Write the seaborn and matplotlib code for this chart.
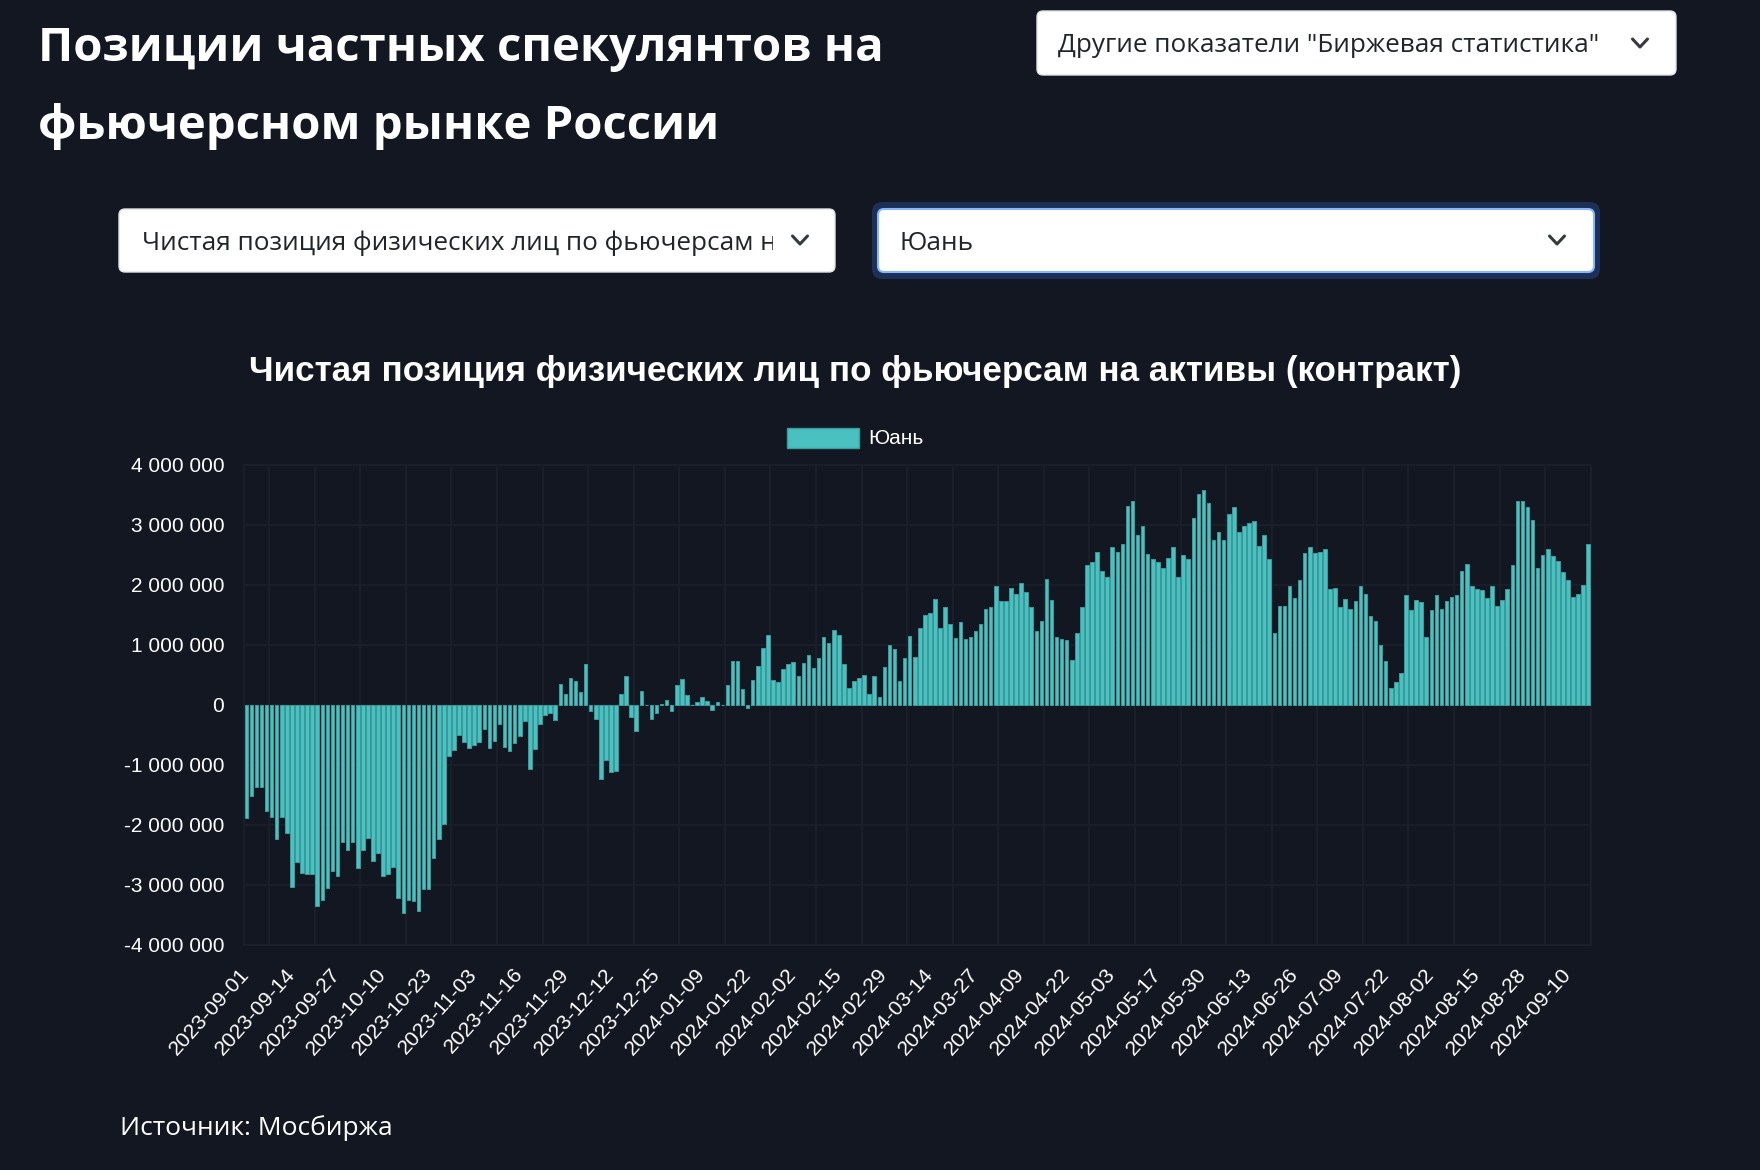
import matplotlib
matplotlib.use("Agg")
import matplotlib.pyplot as plt
import seaborn as sns
import pandas as pd
import numpy as np
from matplotlib.patches import FancyBboxPatch, Rectangle
from matplotlib.lines import Line2D

# ---------------- data ----------------
series_name = "Юань"
chart_title = "Чистая позиция физических лиц по фьючерсам на активы (контракт)"
indicator_text = "Чистая позиция физических лиц по фьючерсам на"

# net position, millions of contracts, one value per trading day (2023-09-01 .. 2024-09-16)
values_mln = [
    -1.89, -1.52, -1.37, -1.37, -1.78, -1.87, -2.24, -1.88, -2.14, -3.04,
    -2.62, -2.81, -2.83, -2.82, -3.36, -3.26, -3.06, -2.78, -2.85, -2.29,
    -2.43, -2.29, -2.72, -2.42, -2.23, -2.60, -2.48, -2.86, -2.82, -2.71,
    -3.23, -3.48, -3.25, -3.28, -3.44, -3.08, -3.07,
    -2.56, -2.24, -1.99, -0.85, -0.76, -0.51, -0.62, -0.73, -0.68, -0.62,
    -0.40, -0.73, -0.61, -0.32, -0.71, -0.78, -0.64, -0.53, -0.28, -1.07,
    -0.74, -0.32, -0.17, -0.14, -0.26, 0.35, 0.18, 0.44, 0.39, 0.21,
    0.67, -0.10, -0.24, -1.24, -0.92, -1.12, -1.11,
    0.17, 0.47, -0.21, -0.44, 0.22, 0.0, -0.24, -0.14, 0.01, 0.07,
    -0.11, 0.32, 0.42, 0.16, 0.0, 0.04, 0.13, 0.06, -0.09, 0.04,
    0.0, 0.32, 0.73, 0.72, 0.26, -0.06, 0.41, 0.65, 0.94, 1.16,
    0.41, 0.37, 0.59, 0.68, 0.71, 0.47, 0.69, 0.83,
    0.61, 0.78, 1.12, 1.02, 1.25, 1.16, 0.67, 0.28, 0.39, 0.44,
    0.50, 0.17, 0.47, 0.13, 0.62, 1.00, 0.92, 0.39, 0.77, 1.14,
    0.80, 1.27, 1.49, 1.53, 1.76, 1.28, 1.63, 1.34, 1.11, 1.37,
    1.09, 1.13, 1.23, 1.35, 1.60, 1.62, 1.98, 1.72,
    1.73, 1.94, 1.85, 2.03, 1.87, 1.62, 1.23, 1.39, 2.09, 1.74,
    1.12, 1.09, 1.08, 0.74, 1.20, 1.62, 2.33, 2.38, 2.54, 2.22,
    2.12, 2.63, 2.54, 2.68, 3.31, 3.40, 2.83, 2.97, 2.51, 2.42,
    2.38, 2.28, 2.45, 2.62, 2.12, 2.49, 2.42,
    3.11, 3.51, 3.57, 3.36, 2.75, 2.87, 2.74, 3.18, 3.30, 2.87,
    2.98, 3.02, 3.06, 2.65, 2.83, 2.43, 1.20, 1.64, 1.64, 1.98,
    1.77, 2.07, 2.53, 2.63, 2.53, 2.54, 2.59, 1.93, 1.95, 1.63,
    1.76, 1.59, 1.72, 1.98, 1.85, 1.48, 1.39,
    1.00, 0.73, 0.27, 0.38, 0.53, 1.83, 1.58, 1.74, 1.71, 1.12,
    1.57, 1.82, 1.59, 1.73, 1.80, 1.82, 2.23, 2.34, 1.97, 1.93,
    1.91, 1.77, 1.98, 1.65, 1.74, 1.92, 2.33, 3.40, 3.40, 3.29,
    3.08, 2.28, 2.49, 2.60, 2.47, 2.39, 2.21, 2.07, 1.79, 1.85,
    1.99, 2.67,
]

tick_labels = [
    "2023-09-01", "2023-09-14", "2023-09-27", "2023-10-10", "2023-10-23",
    "2023-11-03", "2023-11-16", "2023-11-29", "2023-12-12", "2023-12-25",
    "2024-01-09", "2024-01-22", "2024-02-02", "2024-02-15", "2024-02-29",
    "2024-03-14", "2024-03-27", "2024-04-09", "2024-04-22", "2024-05-03",
    "2024-05-17", "2024-05-30", "2024-06-13", "2024-06-26", "2024-07-09",
    "2024-07-22", "2024-08-02", "2024-08-15", "2024-08-28", "2024-09-10",
]
tick_step = 9  # one label every 9 trading days
y_ticks = [-4e6, -3e6, -2e6, -1e6, 0, 1e6, 2e6, 3e6, 4e6]

# ---------------- style ----------------
W, H = 1760, 1170
BG = "#131722"
TEAL = "#4bc0c0"
EDGE = "#3b9c9c"
GRID = "#1b202b"

sns.set_theme(style="dark")
plt.rcParams['font.family'] = ['Liberation Sans', 'DejaVu Sans']
UI_FONT = ['Open Sans', 'Noto Sans', 'DejaVu Sans']

fig = plt.figure(figsize=(W / 100, H / 100), dpi=100, facecolor=BG)

# overlay in pixel coordinates for page elements
ov = fig.add_axes([0, 0, 1, 1], zorder=0)
ov.set_xlim(0, W)
ov.set_ylim(H, 0)
ov.axis("off")
ov.patch.set_alpha(0)

# ---------------- chart ----------------
L, R, T, B = 243.8, 1590.8, 464.5, 944.5
ax = fig.add_axes([L / W, 1 - B / H, (R - L) / W, (B - T) / H], zorder=1)
ax.set_facecolor(BG)

df = pd.DataFrame({"pos": np.arange(len(values_mln)),
                   "value": np.array(values_mln) * 1e6})
sns.barplot(data=df, x="pos", y="value", native_scale=True, color=TEAL,
            saturation=1, width=0.7, edgecolor=EDGE, linewidth=0.7,
            errorbar=None, ax=ax, zorder=3)

n = len(values_mln)
ax.set_xlim(-0.5, n - 0.5)
ax.set_ylim(-4e6, 4e6)

# grid
for yv in y_ticks:
    ax.axhline(yv, color=GRID, lw=1.2, zorder=1)
for k in range(len(tick_labels)):
    ax.axvline(4.5 + tick_step * k, color=GRID, lw=1.2, zorder=1)
for sp in ax.spines.values():
    sp.set_visible(True)
    sp.set_color(GRID)
    sp.set_linewidth(1.2)
ax.grid(False)

ax.set_yticks(y_ticks)
ax.set_yticklabels([f"{int(v):,}".replace(",", " ") for v in y_ticks],
                   fontsize=15, color="white")
xpos = [i * tick_step for i in range(len(tick_labels))]
ax.set_xticks(xpos)
ax.set_xticklabels(tick_labels, rotation=48, ha="right", va="center",
                   rotation_mode="anchor", fontsize=15.3, color="white")
ax.tick_params(axis="x", length=0, pad=19)
ax.tick_params(axis="y", length=0, pad=14)
ax.set_xlabel("")
ax.set_ylabel("")

# chart title & legend
ov.text(855, 372, chart_title, ha="center", va="center", fontsize=25.2,
        weight="bold", color="white")
ov.add_patch(Rectangle((787, 428), 72, 20, facecolor=TEAL, edgecolor=EDGE, lw=1))
ov.text(868, 438, series_name, ha="left", va="center", fontsize=15, color="white")

# ---------------- page header ----------------
ov.text(38, 48, "Позиции частных спекулянтов на", ha="left", va="center",
        fontsize=34, family=UI_FONT, weight="bold", color="white")
ov.text(38, 127, "фьючерсном рынке России", ha="left", va="center",
        fontsize=34, family=UI_FONT, weight="bold", color="white")


def chevron(cx, cy, w=15, h=8):
    ov.add_line(Line2D([cx - w / 2, cx, cx + w / 2], [cy - h / 2, cy + h / 2, cy - h / 2],
                       color="#343a40", lw=2.2, solid_capstyle="round",
                       solid_joinstyle="round", zorder=6))


# dropdown: other indicators
ov.add_patch(FancyBboxPatch((1037, 11), 639, 64,
                            boxstyle="round,pad=0,rounding_size=6",
                            facecolor="white", edgecolor="#dee2e6", lw=1))
ov.text(1058, 45, 'Другие показатели "Биржевая статистика"', ha="left", va="center",
        fontsize=18.8, family=UI_FONT, color="#212529")
chevron(1640, 43)

# dropdown: indicator (text cut off by the select box)
ov.add_patch(FancyBboxPatch((119, 209), 716, 63, boxstyle="round,pad=0,rounding_size=6",
                            facecolor="white", edgecolor="#dee2e6", lw=1, zorder=1))
ov.text(142, 243, indicator_text, ha="left", va="center", zorder=2,
        fontsize=18.8, family=UI_FONT, color="#212529")
ov.add_patch(Rectangle((773, 212), 58, 57, facecolor="white", edgecolor="none", zorder=5))
chevron(800, 240)

# dropdown: asset (focused)
ov.add_patch(FancyBboxPatch((872, 202), 728, 77, boxstyle="round,pad=0,rounding_size=10",
                            facecolor="#1b2f57", edgecolor="none"))
ov.add_patch(FancyBboxPatch((878, 209), 716, 63, boxstyle="round,pad=0,rounding_size=6",
                            facecolor="white", edgecolor="#86b7fe", lw=1.5))
ov.text(900, 243, series_name, ha="left", va="center",
        fontsize=18.8, family=UI_FONT, color="#212529")
chevron(1557, 240)

# source
ov.text(120, 1128, "Источник: Мосбиржа", ha="left", va="center",
        fontsize=19, family=UI_FONT, color="white")

fig.savefig("out.png", dpi=100, facecolor=BG)
